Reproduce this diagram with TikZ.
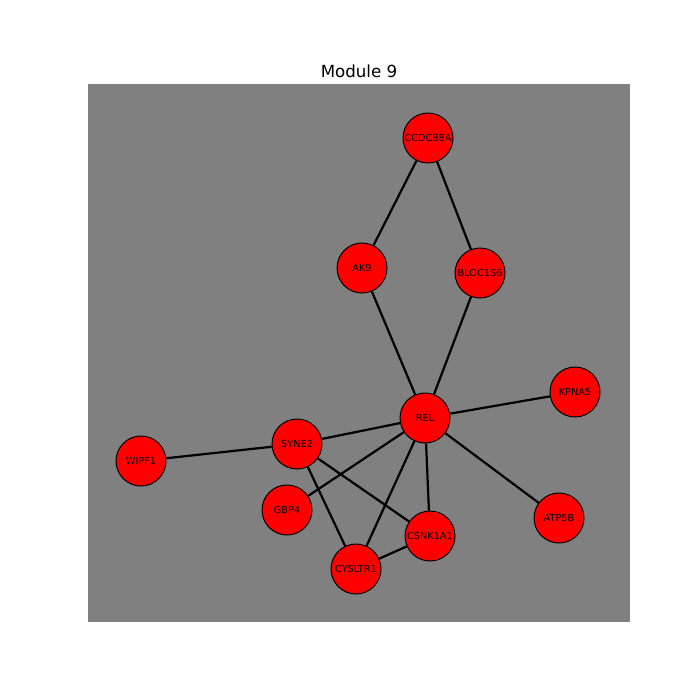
\documentclass[tikz,border=0pt]{standalone}
\usepackage{fontspec}
\setmainfont{DejaVu Sans}
\usepackage{tikz}

\begin{document}
\begin{tikzpicture}[x=0.72pt, y=-0.72pt, line width=1.6pt,
gene/.style ={circle, fill = red, draw, line width=0.72pt, text = black, minimum size=36pt, inner sep=0pt, font=\fontsize{7}{8}\selectfont}]
\useasboundingbox (0,0) rectangle (700,700);
\fill[gray] (88,84) rectangle (630,622);
\node (title) at (359,71) {\fontsize{12}{14}\selectfont Module 9};
\node[gene] (CCDC88A) at (428,138) {CCDC88A};
\node[gene] (AK9) at (362,268) {AK9};
\node[gene] (BLOC1S6) at (480,273) {BLOC1S6};
\node[gene] (KPNA5) at (575,392) {KPNA5};
\node[gene] (REL) at (425,418) {REL};
\node[gene] (SYNE2) at (297,444) {SYNE2};
\node[gene] (WIPF1) at (141,461) {WIPF1};
\node[gene] (GBP4) at (287,510) {GBP4};
\node[gene] (ATP5B) at (559,518) {ATP5B};
\node[gene] (CSNK1A1) at (430,536) {CSNK1A1};
\node[gene] (CYSLTR1) at (356,569) {CYSLTR1};
\path[draw] (CCDC88A) edge (AK9)
		  edge (BLOC1S6)
	  (AK9) edge (REL)
	  (BLOC1S6) edge (REL)
	  (REL) edge (KPNA5)
		  edge (ATP5B)
		  edge (SYNE2)
		  edge (GBP4)
		  edge (CSNK1A1)
		  edge (CYSLTR1)
	  (SYNE2) edge (WIPF1)
		  edge (CSNK1A1)
		  edge (CYSLTR1)
	  (CYSLTR1) edge (CSNK1A1);
\end{tikzpicture}
\end{document}
